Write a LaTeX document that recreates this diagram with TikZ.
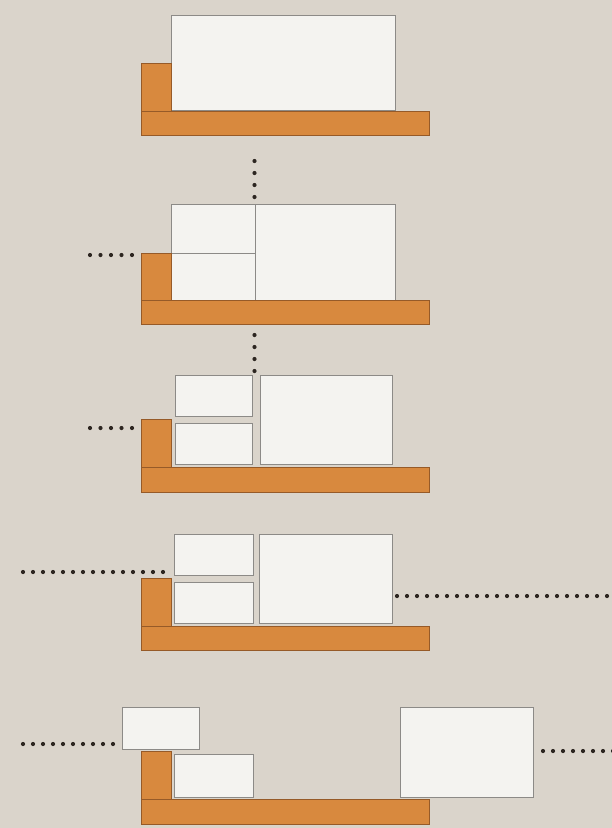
\documentclass[tikz,border=0pt]{standalone}
\usetikzlibrary{calc}
\definecolor{paper}{RGB}{218,212,203}
\definecolor{plank}{RGB}{216,137,62}
\definecolor{plankedge}{RGB}{150,90,40}
\definecolor{board}{RGB}{244,243,240}
\definecolor{boardedge}{RGB}{140,138,135}
\definecolor{dotc}{RGB}{45,38,33}
\tikzset{
  plankbox/.style={fill=plank,draw=plankedge,line width=0.5pt},
  boardbox/.style={fill=board,draw=boardedge,line width=0.6pt},
  dotmark/.style={fill=dotc}
}
% dots from coordinate #1 to coordinate #2, #3 dots
\newcommand{\dotline}[3]{%
  \foreach \k in {0,...,\numexpr#3-1\relax}{%
    \fill[dotmark] ($(#1)!{\k/(#3-1)}!(#2)$) circle (2.1pt);}%
}
\begin{document}
\begin{tikzpicture}[x=1pt,y=-1pt]
\fill[paper] (0,0) rectangle (612,828);
\useasboundingbox (0,0) rectangle (612,828);
% ---------- panel 1
\draw[boardbox] (171,15) rectangle (395,110);
\draw[plankbox] (141,63) rectangle (171,111);
\draw[plankbox] (141,111) rectangle (429,135);
% ---------- panel 2
\draw[boardbox] (255,204) rectangle (395,300);
\draw[boardbox] (171,204) rectangle (255,253);
\draw[boardbox] (171,253) rectangle (255,300);
\draw[plankbox] (141,253) rectangle (171,300);
\draw[plankbox] (141,300) rectangle (429,324);
\coordinate (v2a) at (254.5,161);
\coordinate (v2b) at (254.5,197);
\dotline{v2a}{v2b}{4}
\coordinate (h2a) at (90,255);
\coordinate (h2b) at (132,255);
\dotline{h2a}{h2b}{5}
% ---------- panel 3
\draw[boardbox] (175,375) rectangle (252,416);
\draw[boardbox] (175,423) rectangle (252,464);
\draw[boardbox] (260,375) rectangle (392,464);
\draw[plankbox] (141,419) rectangle (171,467);
\draw[plankbox] (141,467) rectangle (429,492);
\coordinate (v3a) at (254.5,335);
\coordinate (v3b) at (254.5,371);
\dotline{v3a}{v3b}{4}
\coordinate (h3a) at (90,428);
\coordinate (h3b) at (132,428);
\dotline{h3a}{h3b}{5}
% ---------- panel 4
\draw[boardbox] (174,534) rectangle (253,575);
\draw[boardbox] (174,582) rectangle (253,623);
\draw[boardbox] (259,534) rectangle (392,623);
\draw[plankbox] (141,578) rectangle (171,626);
\draw[plankbox] (141,626) rectangle (429,650);
\coordinate (h4a) at (23,572);
\coordinate (h4b) at (163,572);
\dotline{h4a}{h4b}{15}
\coordinate (h4c) at (397,596);
\coordinate (h4d) at (607,596);
\dotline{h4c}{h4d}{22}
% ---------- panel 5
\draw[boardbox] (122,707) rectangle (199,749);
\draw[boardbox] (174,754) rectangle (253,797);
\draw[boardbox] (400,707) rectangle (533,797);
\draw[plankbox] (141,751) rectangle (171,799);
\draw[plankbox] (141,799) rectangle (429,824);
\coordinate (h5a) at (23,744);
\coordinate (h5b) at (113,744);
\dotline{h5a}{h5b}{10}
\coordinate (h5c) at (543,751);
\coordinate (h5d) at (613,751);
\dotline{h5c}{h5d}{8}
\end{tikzpicture}
\end{document}
